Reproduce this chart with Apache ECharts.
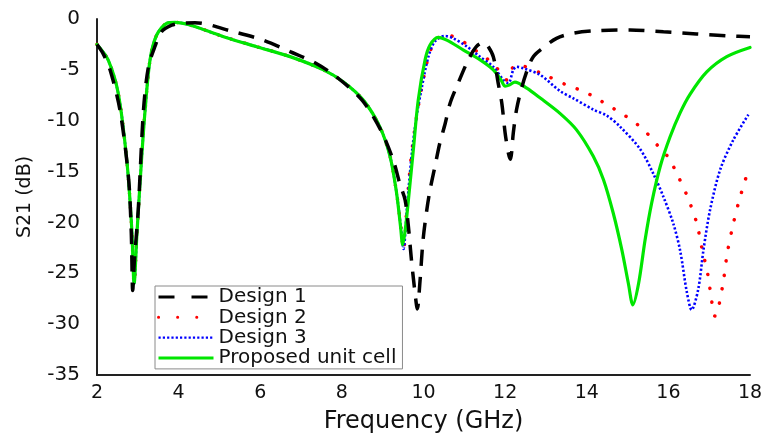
<!DOCTYPE html>
<html>
<head>
<meta charset="utf-8">
<script src="https://cdn.jsdelivr.net/npm/echarts@6/dist/echarts.min.js"></script>
<style>html,body{margin:0;padding:0;background:#fff;}#c{width:761px;height:434px;}</style>
</head>
<body>
<div id="c"></div>
<script>
// ---- Data ----
var seriesNames = ['Design 1', 'Design 2', 'Design 3', 'Proposed unit cell'];
var xTicks = [2, 4, 6, 8, 10, 12, 14, 16, 18];
var yTicks = [0, -5, -10, -15, -20, -25, -30, -35];

var d1Freq = [2, 2.15, 2.32, 2.56, 2.77, 2.84, 2.875, 2.92, 3.01, 3.14, 3.26, 3.42, 3.58, 3.83, 4.08, 4.4, 5.34, 6.07, 6.73, 7.34, 7.87, 8.5, 8.95, 9.26, 9.42, 9.55, 9.63, 9.7, 9.78, 9.85, 9.91, 9.99, 10.08, 10.16, 10.28, 10.4, 10.53, 10.65, 10.86, 11.1, 11.3, 11.47, 11.55, 11.71, 11.83, 11.92, 12.0, 12.08, 12.13, 12.2, 12.28, 12.41, 12.57, 12.69, 12.86, 13.26, 13.67, 14.24, 15.06, 15.88, 16.69, 17.51, 18];
var d1S21 = [-2.5, -3.4, -5.0, -8.9, -15.5, -21.0, -26.7, -23.5, -18.8, -8.9, -4.7, -2.7, -1.25, -0.6, -0.42, -0.36, -1.25, -2.07, -3.2, -4.3, -5.7, -8.0, -10.9, -13.9, -16.2, -17.8, -20.4, -23.5, -26.5, -28.5, -26.0, -21.7, -18.8, -16.8, -14.5, -12.2, -10.3, -8.3, -6.2, -4.0, -2.7, -2.3, -2.5, -3.7, -6.3, -8.3, -11.2, -13.2, -13.8, -11.2, -8.9, -6.7, -4.7, -3.7, -3.05, -1.9, -1.4, -1.15, -1.08, -1.25, -1.47, -1.67, -1.75];

var d2Freq = [2, 2.27, 2.52, 2.73, 2.85, 2.91, 2.98, 3.09, 3.18, 3.3, 3.46, 3.71, 3.91, 4.28, 5.1, 5.91, 6.73, 7.55, 8.04, 8.53, 8.93, 9.18, 9.34, 9.45, 9.51, 9.6, 9.7, 9.83, 9.96, 10.12, 10.28, 10.5, 10.69, 11.06, 11.38, 11.71, 11.96, 12.04, 12.15, 12.28, 12.86, 13.51, 13.92, 14.24, 14.57, 14.9, 15.22, 15.47, 15.75, 16.0, 16.16, 16.46, 16.69, 16.82, 16.97, 17.06, 17.14, 17.23, 17.35, 17.44, 17.57, 17.73, 17.94];
var d2S21 = [-2.5, -4.0, -7.3, -13.9, -20.5, -26.0, -21.0, -13.9, -8.9, -4.0, -1.6, -0.42, -0.33, -0.59, -1.74, -2.72, -3.7, -5.0, -6.2, -8.0, -10.6, -13.5, -17.1, -20.6, -22.7, -18.0, -13.5, -9.6, -6.7, -3.7, -2.2, -1.6, -1.67, -2.46, -3.4, -4.4, -5.7, -6.0, -5.0, -4.5, -5.3, -6.5, -7.1, -7.8, -8.6, -9.4, -10.3, -11.2, -12.5, -13.6, -14.8, -17.4, -20.0, -22.5, -25.2, -27.7, -29.2, -28.3, -25.7, -23.1, -20.5, -17.9, -15.1];

var d3Freq = [2, 2.27, 2.52, 2.73, 2.85, 2.91, 2.98, 3.09, 3.18, 3.3, 3.46, 3.71, 3.91, 4.28, 5.1, 5.91, 6.73, 7.55, 8.04, 8.53, 8.93, 9.18, 9.34, 9.45, 9.51, 9.6, 9.72, 9.83, 9.96, 10.12, 10.28, 10.53, 10.73, 11.06, 11.38, 11.71, 11.96, 12.08, 12.2, 12.28, 12.45, 12.86, 13.35, 13.67, 14.16, 14.49, 14.82, 15.31, 15.63, 15.88, 16.12, 16.29, 16.45, 16.57, 16.73, 16.86, 17.02, 17.27, 17.59, 17.96];
var d3S21 = [-2.5, -4.0, -7.3, -13.9, -20.5, -26.0, -21.0, -13.9, -8.9, -4.0, -1.6, -0.42, -0.33, -0.59, -1.74, -2.72, -3.7, -5.0, -6.2, -8.0, -10.6, -13.5, -17.1, -20.6, -22.6, -18.3, -13.0, -9.6, -6.7, -3.7, -2.2, -1.67, -1.9, -2.7, -3.7, -4.7, -6.0, -6.3, -5.0, -4.7, -4.85, -5.5, -7.1, -7.8, -8.9, -9.5, -10.6, -12.8, -15.2, -17.5, -20.1, -22.8, -26.8, -28.6, -26.6, -22.7, -18.8, -14.8, -11.9, -9.4];

var d4Freq = [2, 2.27, 2.52, 2.73, 2.85, 2.91, 2.98, 3.09, 3.18, 3.3, 3.46, 3.71, 3.91, 4.28, 5.1, 5.91, 6.73, 7.55, 8.04, 8.53, 8.93, 9.18, 9.34, 9.44, 9.49, 9.56, 9.63, 9.75, 9.87, 10.04, 10.16, 10.36, 10.57, 10.98, 11.38, 11.71, 11.9, 12.0, 12.1, 12.24, 12.53, 12.87, 13.35, 13.75, 14.16, 14.41, 14.65, 14.86, 15.02, 15.13, 15.27, 15.43, 15.59, 15.8, 16.04, 16.29, 16.53, 16.94, 17.43, 18];
var d4S21 = [-2.5, -4.0, -7.3, -13.9, -20.5, -26.0, -21.0, -13.9, -8.9, -4.0, -1.6, -0.42, -0.33, -0.59, -1.74, -2.72, -3.7, -5.0, -6.2, -8.0, -10.6, -13.5, -17.1, -20.5, -22.2, -20.5, -17.8, -12.9, -8.0, -4.0, -2.56, -1.8, -2.07, -3.05, -4.0, -5.0, -6.0, -6.6, -6.5, -6.2, -6.8, -7.8, -9.3, -10.9, -13.5, -15.8, -19.1, -22.7, -26.0, -28.1, -26.0, -21.7, -18.1, -14.5, -11.6, -9.2, -7.4, -5.2, -3.7, -2.8];

function pairs(xs, ys) { return xs.map(function (x, i) { return [x, ys[i]]; }); }

var FONT = 'DejaVu Sans, Verdana, sans-serif';
var styles = [
  { color: '#000000', width: 3.5, type: [16, 11], cap: 'butt' },
  { color: '#ff0000', width: 3.5, type: [0.1, 14], cap: 'round' },
  { color: '#0000ff', width: 2.6, type: [2.2, 2.1], cap: 'butt' },
  { color: '#00e600', width: 3.2, type: 'solid', cap: 'round' }
];
var legendStyles = [
  { color: '#000000', width: 3, type: [16, 17], cap: 'butt' },
  { color: '#ff0000', width: 3, type: [0.1, 19], cap: 'round' },
  { color: '#0000ff', width: 2.4, type: [2.2, 2.1], cap: 'butt' },
  { color: '#00e600', width: 3, type: 'solid', cap: 'butt' }
];
var dataSets = [pairs(d1Freq, d1S21), pairs(d2Freq, d2S21), pairs(d3Freq, d3S21), pairs(d4Freq, d4S21)];

var series = seriesNames.map(function (n, i) {
  return {
    name: n, type: 'line', data: dataSets[i], smooth: 0.3, symbol: 'none',
    lineStyle: styles[i], itemStyle: { color: styles[i].color },
    z: i === 0 ? 4 : (i === 3 ? 3 : 2)
  };
});

var chart = echarts.init(document.getElementById('c'), null, { renderer: 'canvas' });
chart.setOption({
  animation: false,
  backgroundColor: '#ffffff',
  grid: { left: 97, right: 11, top: 19, bottom: 59, containLabel: false, outerBoundsMode: 'none' },
  xAxis: {
    type: 'value', min: xTicks[0], max: xTicks[xTicks.length - 1], interval: 2,
    name: 'Frequency (GHz)', nameLocation: 'middle', nameGap: 35,
    nameTextStyle: { fontSize: 24, color: '#111', fontFamily: FONT },
    axisLine: { onZero: false, lineStyle: { color: '#222', width: 2 } },
    axisTick: { show: false }, splitLine: { show: false },
    axisLabel: { fontSize: 19, color: '#111', fontFamily: FONT, margin: 9 }
  },
  yAxis: {
    type: 'value', min: yTicks[yTicks.length - 1], max: yTicks[0], interval: 5,
    name: 'S21 (dB)', nameLocation: 'middle', nameGap: 62,
    nameTextStyle: { fontSize: 19, color: '#111', fontFamily: FONT },
    axisLine: { show: true, onZero: false, lineStyle: { color: '#222', width: 2 } },
    axisTick: { show: false }, splitLine: { show: false },
    axisLabel: { fontSize: 20, color: '#111', fontFamily: FONT, margin: 17 }
  },
  legend: {
    orient: 'vertical', left: 155, top: 286,
    padding: [1, 6, 1, 2], itemGap: 0.3, itemWidth: 55, itemHeight: 19,
    borderColor: '#8a8a8a', borderWidth: 1, backgroundColor: '#fff',
    textStyle: { fontSize: 20, color: '#111', fontFamily: FONT, lineHeight: 19 },
    data: seriesNames.map(function (n, i) {
      return { name: n, lineStyle: legendStyles[i], itemStyle: { opacity: 0, color: 'transparent', borderWidth: 0 } };
    })
  },
  series: series
});
</script>
</body>
</html>
